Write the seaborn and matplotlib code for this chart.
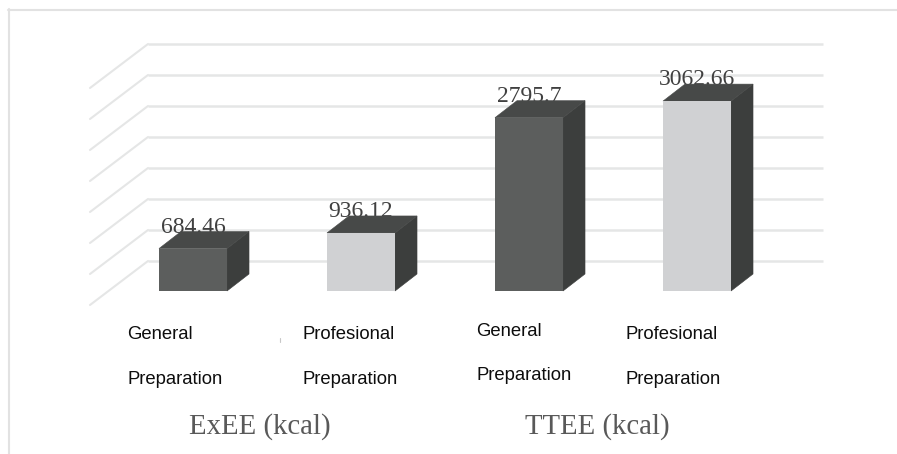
import matplotlib
matplotlib.use("Agg")
import matplotlib.pyplot as plt
from matplotlib.patches import Polygon
import numpy as np
import pandas as pd
import seaborn as sns

# Energy expenditure by preparation period
measures = ["ExEE (kcal)", "ExEE (kcal)", "TTEE (kcal)", "TTEE (kcal)"]
periods = ["General", "Profesional", "General", "Profesional"]
values = [684.46, 936.12, 2795.7, 3062.66]
value_labels = ["684.46", "936.12", "2795.7", "3062.66"]
grid_values = [0, 500, 1000, 1500, 2000, 2500, 3000, 3500]
group_titles = ["ExEE (kcal)", "TTEE (kcal)"]

W, H = 897, 454
PX_PER_SLOT = 168.0
PX_PER_KCAL = 0.062

DARK_FRONT = "#5c5e5d"
LIGHT_FRONT = "#d0d1d3"
BAR_SIDE = "#3c3e3d"
BAR_TOP = "#474948"
GRID = "#e5e6e6"
FRAME = "#e2e2e2"

sns.set_theme(style="white")
plt.rcParams["font.family"] = ["Liberation Serif", "DejaVu Serif"]

df = pd.DataFrame({
    "slot": [0, 1, 2, 3],
    "measure": measures,
    "period": periods,
    "kcal": values,
})

fig = plt.figure(figsize=(W / 100, H / 100), dpi=100, facecolor="white")


def px_box(left, right, top, bottom):
    return [left / W, 1 - bottom / H, (right - left) / W, (bottom - top) / H]


# Axes span the plane of the bar fronts: slot 0 centred at x=193 px, zero at y=291 px
left_px = 193 - 0.5 * PX_PER_SLOT
right_px = 193 + 3.5 * PX_PER_SLOT
ymax = 3500
ax = fig.add_axes(px_box(left_px, right_px, 291 - ymax * PX_PER_KCAL, 291))

sns.barplot(
    data=df, x="slot", y="kcal", hue="period", dodge=False, width=0.405,
    palette={"General": DARK_FRONT, "Profesional": LIGHT_FRONT},
    legend=False, saturation=1, ax=ax, zorder=5, linewidth=0,
)
ax.set_xlim(-0.5, 3.5)
ax.set_ylim(0, ymax)
ax.axis("off")

# Depth of the chart box, expressed in data units
to_x = lambda px: px / PX_PER_SLOT
to_y = lambda px: px / PX_PER_KCAL
wall_left = to_x(148 - 193)
wall_right = to_x(823 - 193)
floor_left = to_x(90 - 193)
wall_lift = to_y(30)
floor_drop = to_y(-14)

for v in grid_values:
    ax.plot([wall_left, wall_right], [v + wall_lift] * 2, color=GRID, lw=1.8,
            clip_on=False, zorder=1, solid_capstyle="butt")
    ax.plot([floor_left, wall_left], [v + floor_drop, v + wall_lift], color=GRID,
            lw=1.5, clip_on=False, zorder=1)

# Extrude each bar with a top and a side face
dx, dy = to_x(22), to_y(17)
for slot, value, label in zip(df["slot"], values, value_labels):
    x0, x1 = slot - 0.405 / 2, slot + 0.405 / 2
    ax.text(slot, value + to_y(16), label, ha="center", va="baseline",
            fontsize=17, color="#404040", zorder=3, clip_on=False)
    ax.add_patch(Polygon([(x1, 0), (x1 + dx, dy), (x1 + dx, value + dy), (x1, value)],
                         closed=True, fc=BAR_SIDE, ec=BAR_SIDE, lw=0.4, zorder=4, clip_on=False))
    ax.add_patch(Polygon([(x0, value), (x1, value), (x1 + dx, value + dy), (x0 + dx, value + dy)],
                         closed=True, fc=BAR_TOP, ec=BAR_TOP, lw=0.4, zorder=4, clip_on=False))


def fig_text(x, y, s, **kw):
    fig.text(x / W, 1 - y / H, s, va="baseline", **kw)


# Category captions sit on two staggered rows
caption_x = [127, 302, 476, 625]
caption_y = [(339, 384), (339, 384), (336, 380), (339, 384)]
for x, (y1, y2), period in zip(caption_x, caption_y, periods):
    fig_text(x, y1, period, family="Liberation Sans", fontsize=13.3, color="#0d0d0d")
    fig_text(x, y2, "Preparation", family="Liberation Sans", fontsize=13.3, color="#0d0d0d")

for cx, title in zip([260, 597], group_titles):
    fig_text(cx, 434, title, family="Liberation Serif", fontsize=20.7, color="#595959", ha="center")

# Small stray tick between the first two captions
fig.add_artist(plt.Line2D([279.5 / W] * 2, [1 - 342 / H, 1 - 338 / H], color="#c8c8c8", lw=0.8))

# Outer frame: only the top and left edges are visible
fig.add_artist(plt.Line2D([8.5 / W, 8.5 / W], [0, 1 - 9 / H], color=FRAME, lw=1.5))
fig.add_artist(plt.Line2D([8 / W, 1], [1 - 9.5 / H] * 2, color=FRAME, lw=1.5))

fig.savefig("out.png", dpi=100, facecolor="white")
